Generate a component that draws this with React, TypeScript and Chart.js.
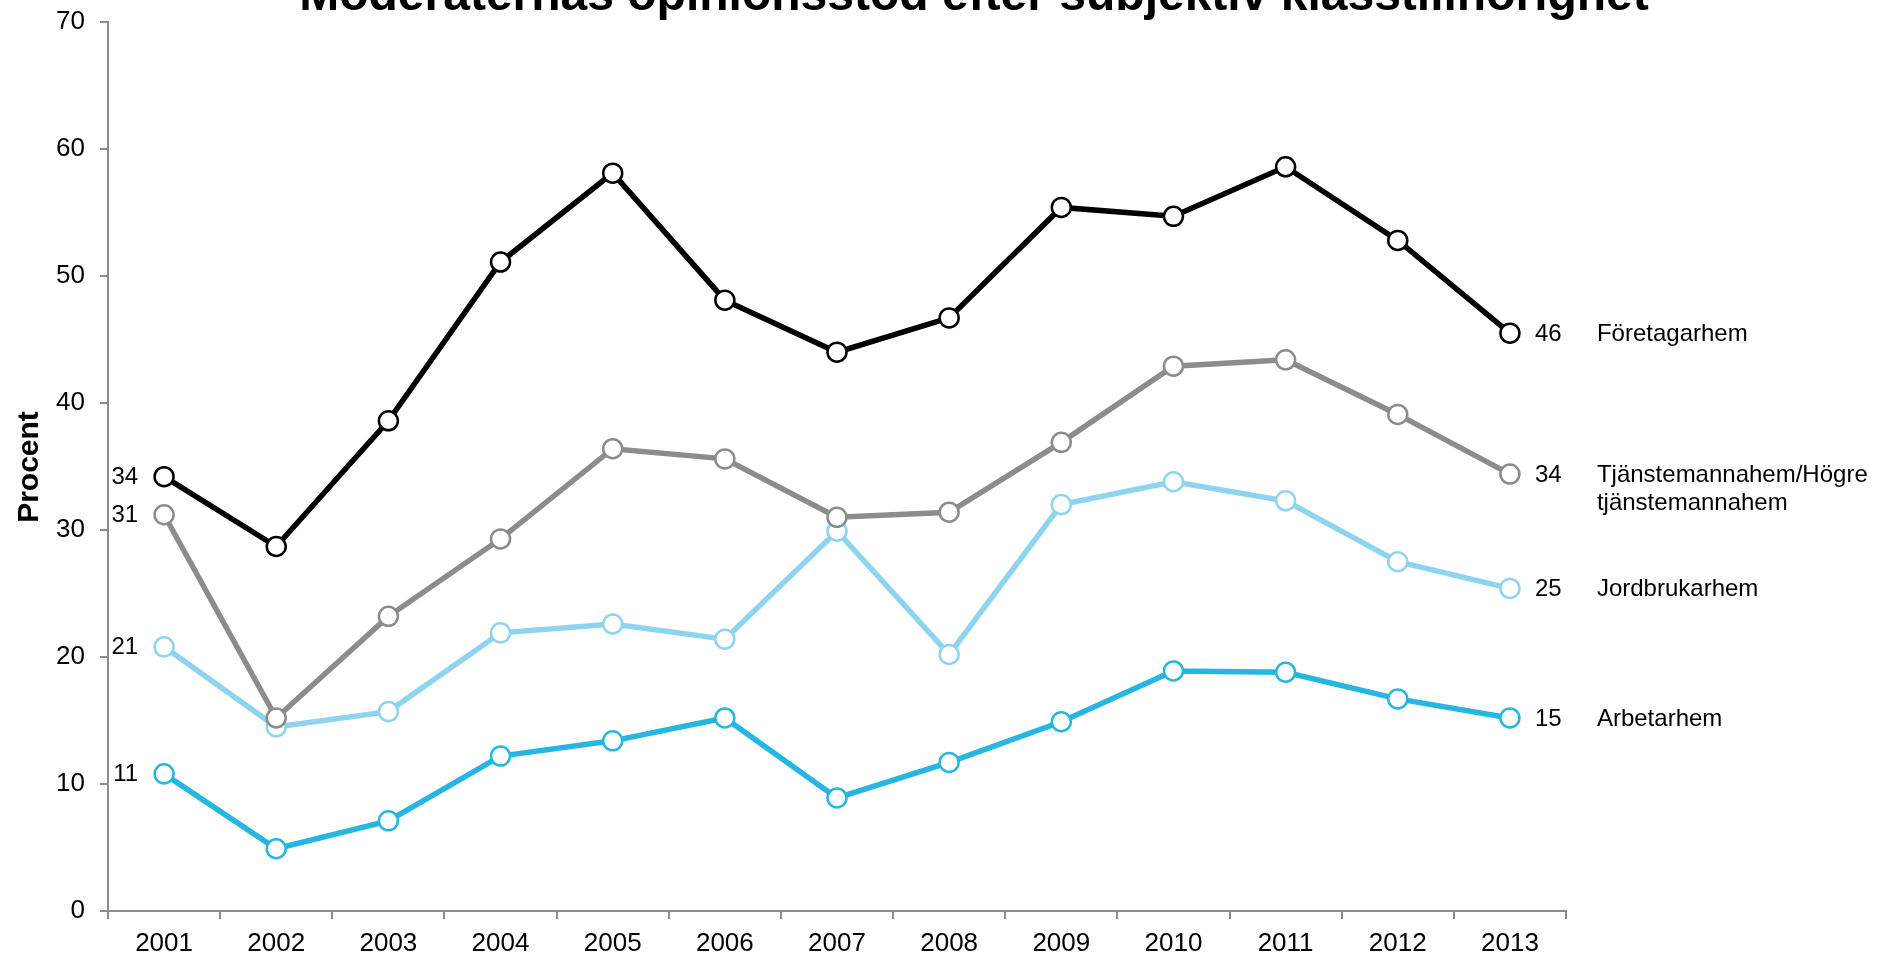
import React, { useEffect, useRef } from "react";
import { Chart, registerables } from "chart.js";

Chart.register(...registerables);

const TITLE = "Moderaternas opinionsstöd efter subjektiv klasstillhörighet";
const Y_TITLE = "Procent";
const years = ["2001", "2002", "2003", "2004", "2005", "2006", "2007", "2008", "2009", "2010", "2011", "2012", "2013"];

const foretagarhem = [34.2, 28.7, 38.6, 51.1, 58.1, 48.1, 44.0, 46.7, 55.4, 54.7, 58.6, 52.8, 45.5];
const tjanstemannahem = [31.2, 15.2, 23.2, 29.3, 36.4, 35.6, 31.0, 31.4, 36.9, 42.9, 43.4, 39.1, 34.4];
const jordbrukarhem = [20.8, 14.5, 15.7, 21.9, 22.6, 21.4, 29.9, 20.2, 32.0, 33.8, 32.3, 27.5, 25.4];
const arbetarhem = [10.8, 4.9, 7.1, 12.2, 13.4, 15.2, 8.9, 11.7, 14.9, 18.9, 18.8, 16.7, 15.2];

const seriesNames = [["Företagarhem"], ["Tjänstemannahem/Högre", "tjänstemannahem"], ["Jordbrukarhem"], ["Arbetarhem"]];
const seriesColors = ["#000000", "#8c8c8c", "#8fd4ee", "#27b6e1"];
const seriesData = [foretagarhem, tjanstemannahem, jordbrukarhem, arbetarhem];

const yTicks = [0, 10, 20, 30, 40, 50, 60, 70];

const FONT = "'Liberation Sans', Arial, sans-serif";

const labelPlugin = {
  id: "customLabels",
  afterDraw(chart: any) {
    const ctx = chart.ctx;
    ctx.save();
    ctx.fillStyle = "#000";
    ctx.font = `bold 48px ${FONT}`;
    ctx.textAlign = "center";
    ctx.textBaseline = "alphabetic";
    ctx.fillText(TITLE, 974, 10);
    ctx.save();
    ctx.translate(30, 467);
    ctx.rotate(-Math.PI / 2);
    ctx.font = `bold 30px ${FONT}`;
    ctx.textAlign = "center";
    ctx.textBaseline = "middle";
    ctx.fillText(Y_TITLE, 0, 0);
    ctx.restore();
    ctx.font = `24px ${FONT}`;
    ctx.textBaseline = "middle";
    chart.data.datasets.forEach((ds: any, i: number) => {
      const meta = chart.getDatasetMeta(i);
      const first = meta.data[0];
      const last = meta.data[meta.data.length - 1];
      ctx.textAlign = "right";
      ctx.fillText(String(Math.round(ds.data[0])), first.x - 26, first.y + 1);
      ctx.textAlign = "left";
      ctx.fillText(String(Math.round(ds.data[ds.data.length - 1])), last.x + 25, last.y + 1);
      const names = seriesNames[i];
      names.forEach((n, k) => {
        ctx.fillText(n, last.x + 87, last.y + 1 + k * 28);
      });
    });
    ctx.restore();
  },
};

export default function App() {
  const ref = useRef<HTMLCanvasElement>(null);
  useEffect(() => {
    if (!ref.current) return;
    const chart = new Chart(ref.current, {
      type: "line",
      data: {
        labels: years,
        datasets: seriesData.map((d, i) => ({
          label: seriesNames[i].join(" "),
          data: d,
          borderColor: seriesColors[i],
          backgroundColor: "#ffffff",
          pointBackgroundColor: "#ffffff",
          pointBorderColor: seriesColors[i],
          pointBorderWidth: 2.5,
          pointRadius: 9.5,
          borderWidth: 5.5,
          tension: 0,
          fill: false,
        })),
      },
      options: {
        animation: false,
        responsive: false,
        maintainAspectRatio: false,
        layout: { padding: { left: 0, top: 22, right: 318, bottom: 0 } },
        plugins: { legend: { display: false }, tooltip: { enabled: false }, title: { display: false } },
        scales: {
          x: {
            type: "category",
            offset: true,
            grid: { offset: true, drawOnChartArea: false, drawTicks: true, tickLength: 8, color: "#8c8c8c", lineWidth: 2 },
            border: { display: true, color: "#8c8c8c", width: 2 },
            ticks: { color: "#000", font: { family: FONT, size: 26 }, padding: 9, maxRotation: 0, autoSkip: false },
            afterFit: (s: any) => { s.height = 45; s.paddingLeft = 0; s.paddingRight = 0; },
          },
          y: {
            min: 0,
            max: 70,
            afterBuildTicks: (s: any) => { s.ticks = yTicks.map((v) => ({ value: v })); },
            grid: { drawOnChartArea: false, drawTicks: true, tickLength: 8, color: "#8c8c8c", lineWidth: 2 },
            border: { display: true, color: "#8c8c8c", width: 2 },
            ticks: { color: "#000", font: { family: FONT, size: 26 }, padding: 15 },
            afterFit: (s: any) => { s.width = 108; s.paddingTop = 0; s.paddingBottom = 0; },
          },
        },
      },
      plugins: [labelPlugin],
    } as any);
    return () => chart.destroy();
  }, []);
  return (
    <div style={{ position: "fixed", left: 0, top: 0, width: 1884, height: 956, background: "#fff" }}>
      <canvas ref={ref} width={1884} height={956} style={{ width: 1884, height: 956, display: "block" }} />
    </div>
  );
}
